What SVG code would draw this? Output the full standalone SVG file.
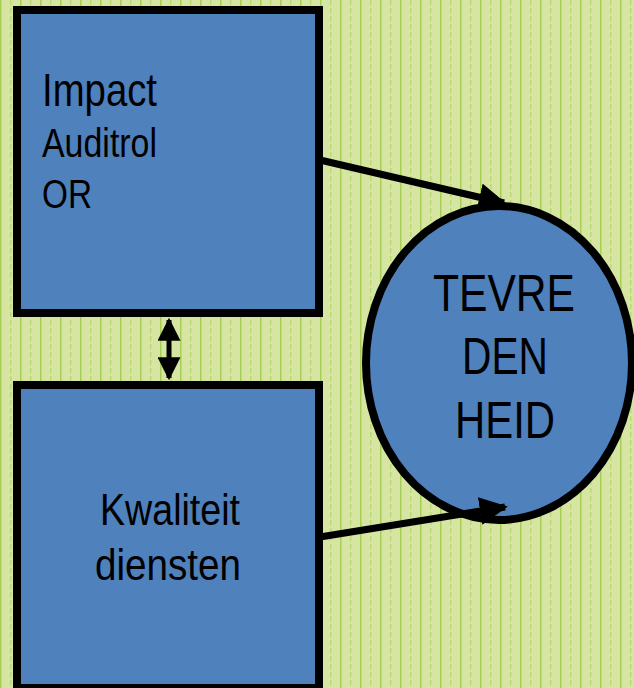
<svg xmlns="http://www.w3.org/2000/svg" width="634" height="688" viewBox="0 0 634 688">
<defs>
<pattern id="bg" x="0" y="0" width="20" height="8" patternUnits="userSpaceOnUse">
<rect width="20" height="8" fill="#d6e6a2"/>
<rect x="0" y="0" width="1.5" height="8" fill="#a8cf55"/>
<rect x="10" y="0" width="1.5" height="5" fill="#bcd97a"/>
</pattern>
<marker id="head" viewBox="0 0 10 10" refX="9" refY="5" markerWidth="4" markerHeight="4" orient="auto" markerUnits="strokeWidth">
<path d="M0,0 L10,5 L0,10 Z" fill="#000"/>
</marker>
<marker id="head2" viewBox="0 0 10 10" refX="9" refY="5" markerWidth="4.6" markerHeight="4.6" orient="auto-start-reverse" markerUnits="strokeWidth">
<path d="M0,0 L10,5 L0,10 Z" fill="#000"/>
</marker>
</defs>
<style>
.box{fill:#4f81bd;stroke:#000;stroke-width:8}
.t{font-family:"Liberation Sans Narrow","Liberation Sans",Arial,sans-serif;fill:#000}
.conn{stroke:#000;fill:none}
</style>
<rect width="634" height="688" fill="url(#bg)"/>
<g id="node-impact">
<rect class="box" x="17" y="10" width="302" height="303"/>
<text class="t" x="42" y="106" font-size="46" textLength="115" lengthAdjust="spacingAndGlyphs">Impact</text>
<text class="t" x="42" y="157" font-size="40" textLength="115" lengthAdjust="spacingAndGlyphs">Auditrol</text>
<text class="t" x="42" y="208" font-size="40" textLength="50" lengthAdjust="spacingAndGlyphs">OR</text>
</g>
<g id="node-kwaliteit">
<rect class="box" x="17" y="385" width="302" height="303"/>
<text class="t" x="170" y="525" font-size="45" text-anchor="middle" textLength="140" lengthAdjust="spacingAndGlyphs">Kwaliteit</text>
<text class="t" x="168" y="580" font-size="45" text-anchor="middle" textLength="146" lengthAdjust="spacingAndGlyphs">diensten</text>
</g>
<g id="node-tevredenheid">
<ellipse cx="499" cy="363" rx="133" ry="157" fill="#4f81bd" stroke="#000" stroke-width="8"/>
<text class="t" x="504" y="311" font-size="52" text-anchor="middle" textLength="142" lengthAdjust="spacingAndGlyphs">TEVRE</text>
<text class="t" x="505" y="374" font-size="52" text-anchor="middle" textLength="86" lengthAdjust="spacingAndGlyphs">DEN</text>
<text class="t" x="505" y="438" font-size="52" text-anchor="middle" textLength="100" lengthAdjust="spacingAndGlyphs">HEID</text>
</g>
<g id="connectors">
<line class="conn" x1="320" y1="160" x2="504" y2="203" stroke-width="7" marker-end="url(#head)"/>
<line class="conn" x1="320" y1="537" x2="505" y2="507" stroke-width="7" marker-end="url(#head)"/>
<line class="conn" x1="169" y1="320" x2="169" y2="378" stroke-width="5" marker-start="url(#head2)" marker-end="url(#head2)"/>
</g>
</svg>
